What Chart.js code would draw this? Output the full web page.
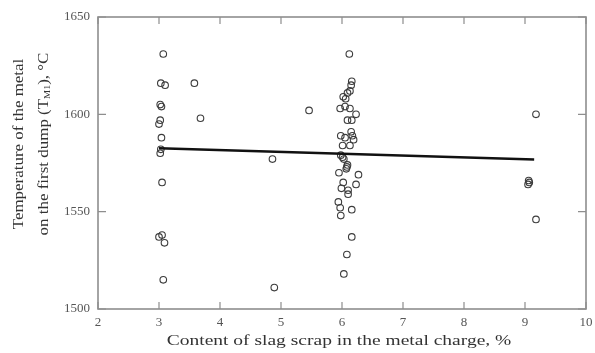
<!DOCTYPE html>
<html>
<head>
<meta charset="utf-8">
<script src="https://cdn.jsdelivr.net/npm/chart.js@4/dist/chart.umd.min.js"></script>
<style>
  html, body { margin: 0; padding: 0; background: #fff; }
  #wrap { width: 595px; height: 353px; }
</style>
</head>
<body>
<div id="wrap"><canvas id="scatter" width="595" height="353"></canvas></div>
<script>
// slag scrap content, % (x) and metal temperature on first dump, °C (y)
const slagContent = [
  3.07, 3.03, 3.10, 3.02, 3.04, 3.02, 3.00, 3.04, 3.03, 3.02, 3.05, 3.00, 3.05, 3.09, 3.07,
  3.58, 3.68, 4.86, 4.89, 5.46,
  6.12, 6.16, 6.15, 6.13, 6.09, 6.02, 6.06, 5.97, 6.05, 6.13, 6.23, 6.09, 6.16, 5.98, 6.05,
  6.17, 6.19, 6.15, 6.01, 6.13, 5.98, 6.03, 6.08, 6.01, 6.09, 6.07, 5.95, 6.27, 6.02, 6.23,
  5.99, 6.10, 6.10, 5.94, 5.97, 6.16, 5.98, 6.16, 6.08, 6.03,
  9.18, 9.06, 9.07, 9.05, 9.18
];
const metalTemp = [
  1631, 1616, 1615, 1605, 1604, 1597, 1595, 1588, 1582, 1580, 1565, 1537, 1538, 1534, 1515,
  1616, 1598, 1577, 1511, 1602,
  1631, 1617, 1615, 1612, 1611, 1609, 1608, 1603, 1604, 1603, 1600, 1597, 1597, 1589, 1588,
  1589, 1587, 1591, 1584, 1584, 1579, 1577, 1573, 1578, 1574, 1572, 1570, 1569, 1565, 1564,
  1562, 1561, 1559, 1555, 1552, 1551, 1548, 1537, 1528, 1518,
  1600, 1566, 1565, 1564, 1546
];
// linear trend drawn across the data range
const fitX = [3.0, 9.15];
const fitY = [1582.6, 1576.8];

const xTicks = [2, 3, 4, 5, 6, 7, 8, 9, 10];
const yTicks = [1500, 1550, 1600, 1650];

const FONT = '"Liberation Serif", "DejaVu Serif", serif';
const FRAME = '#8e8e8e';
const TITLE_COLOR = '#333';

// box frame with inward tick marks on all four sides
const framePlugin = {
  id: 'frame',
  beforeDatasetsDraw(chart) {
    const { ctx, chartArea: a, scales } = chart;
    ctx.save();
    ctx.strokeStyle = FRAME;
    ctx.lineWidth = 1.6;
    ctx.strokeRect(a.left, a.top, a.right - a.left, a.bottom - a.top);
    ctx.lineWidth = 1.2;
    ctx.beginPath();
    xTicks.forEach(v => {
      const px = scales.x.getPixelForValue(v);
      ctx.moveTo(px, a.bottom); ctx.lineTo(px, a.bottom - 7);
      ctx.moveTo(px, a.top); ctx.lineTo(px, a.top + 7);
    });
    yTicks.forEach(v => {
      const py = scales.y.getPixelForValue(v);
      ctx.moveTo(a.left, py); ctx.lineTo(a.left + 8, py);
      ctx.moveTo(a.right, py); ctx.lineTo(a.right - 8, py);
    });
    ctx.stroke();
    ctx.restore();
  }
};

// axis titles: the type is drawn a little stretched along the text direction
const titlesPlugin = {
  id: 'titles',
  afterDraw(chart) {
    const { ctx, chartArea: a } = chart;

    // x title under the tick labels
    ctx.save();
    ctx.fillStyle = TITLE_COLOR;
    ctx.textAlign = 'center';
    ctx.textBaseline = 'middle';
    ctx.font = '15px ' + FONT;
    ctx.translate((a.left + a.right) / 2 - 3, 341);
    ctx.scale(1.3, 1);
    ctx.fillText('Content of slag scrap in the metal charge, %', 0, 0);
    ctx.restore();

    // y title: two rotated lines, subscript in the second one
    ctx.save();
    ctx.fillStyle = TITLE_COLOR;
    ctx.textBaseline = 'middle';
    ctx.translate(0, 144);
    ctx.rotate(-Math.PI / 2);
    ctx.scale(1.13, 1);
    ctx.font = '15px ' + FONT;
    ctx.textAlign = 'center';
    ctx.fillText('Temperature of the metal', 0, 19);

    const p1 = 'on the first dump (T', sub = 'M1', p2 = '), °C';
    const w1 = ctx.measureText(p1).width, w2 = ctx.measureText(p2).width;
    ctx.font = '9px ' + FONT;
    const ws = ctx.measureText(sub).width;
    let x = -(w1 + ws + w2) / 2;
    ctx.textAlign = 'left';
    ctx.font = '15px ' + FONT;
    ctx.fillText(p1, x, 44); x += w1;
    ctx.font = '9px ' + FONT;
    ctx.fillText(sub, x, 48); x += ws;
    ctx.font = '15px ' + FONT;
    ctx.fillText(p2, x, 44);
    ctx.restore();
  }
};

new Chart(document.getElementById('scatter'), {
  type: 'scatter',
  data: {
    datasets: [
      {
        label: 'measurements',
        data: slagContent.map((v, i) => ({ x: v, y: metalTemp[i] })),
        pointStyle: 'circle',
        pointRadius: 3.3,
        pointBorderWidth: 1.1,
        borderColor: '#3c3c3c',
        backgroundColor: 'rgba(255,255,255,0)',
        order: 2
      },
      {
        type: 'line',
        label: 'trend',
        data: fitX.map((v, i) => ({ x: v, y: fitY[i] })),
        borderColor: '#111',
        borderWidth: 2.6,
        pointRadius: 0,
        fill: false,
        order: 1
      }
    ]
  },
  options: {
    responsive: false,
    animation: false,
    layout: { padding: { left: 0, right: 9, top: 17, bottom: 0 } },
    plugins: { legend: { display: false }, tooltip: { enabled: false } },
    scales: {
      x: {
        type: 'linear',
        min: 2, max: 10,
        afterFit(scale) { scale.height = 44; scale.paddingRight = 0; scale.paddingLeft = 0; },
        afterBuildTicks(scale) { scale.ticks = xTicks.map(v => ({ value: v })); },
        grid: { display: false, drawTicks: false },
        border: { display: false },
        ticks: { color: '#555', font: { family: FONT, size: 13 }, padding: 6, maxRotation: 0 }
      },
      y: {
        type: 'linear',
        min: 1500, max: 1650,
        afterFit(scale) { scale.width = 98; scale.paddingTop = 0; scale.paddingBottom = 0; },
        afterBuildTicks(scale) { scale.ticks = yTicks.map(v => ({ value: v })); },
        grid: { display: false, drawTicks: false },
        border: { display: false },
        ticks: {
          color: '#555',
          font: { family: FONT, size: 13 },
          padding: 8,
          callback: v => String(v)
        }
      }
    }
  },
  plugins: [framePlugin, titlesPlugin]
});
</script>
</body>
</html>
